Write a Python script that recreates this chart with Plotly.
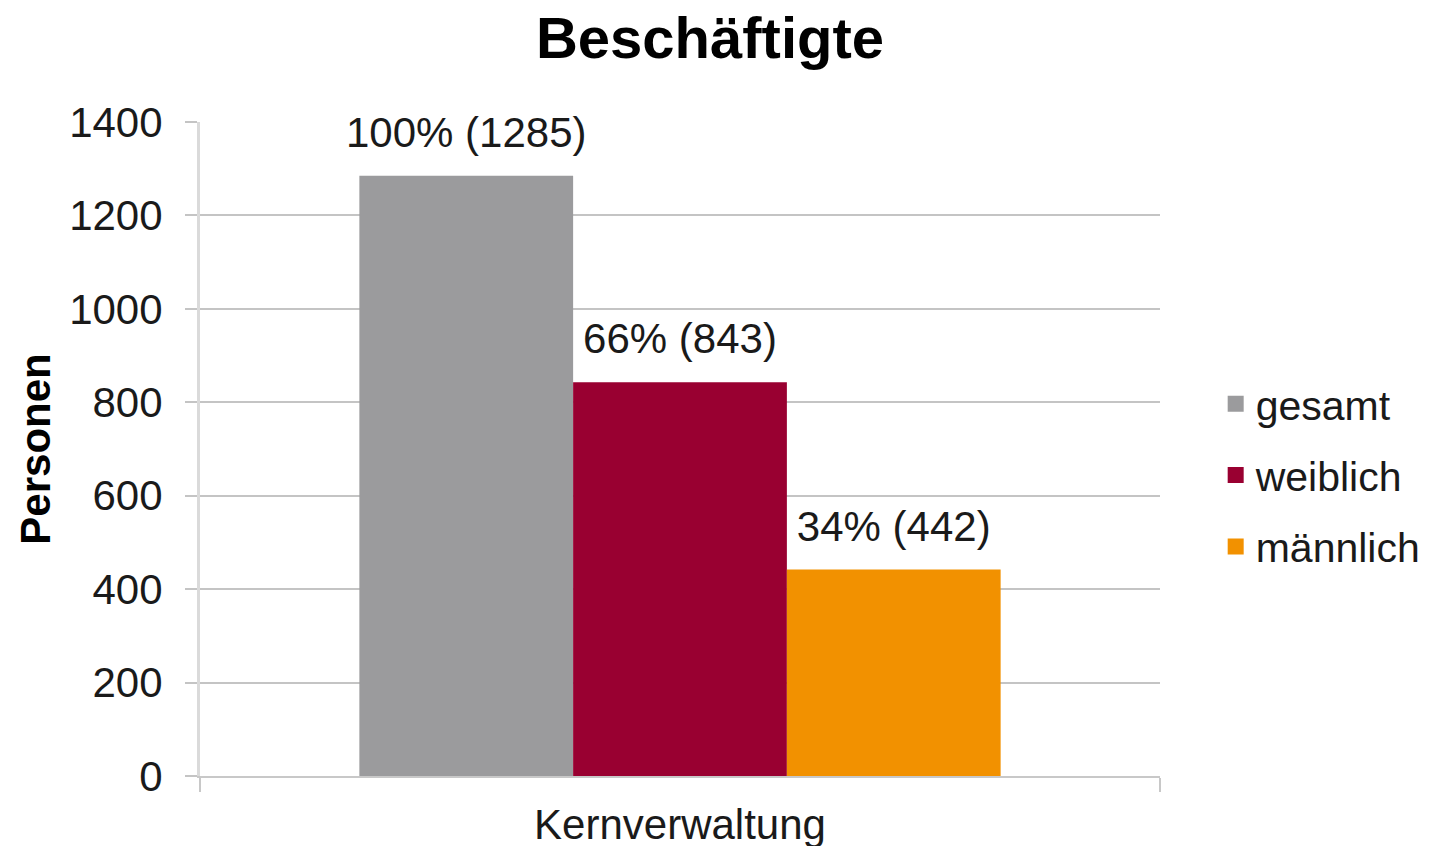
import plotly.graph_objects as go

categories = ["Kernverwaltung"]
series = ["gesamt", "weiblich", "männlich"]
values = [1285, 843, 442]
shares = [100, 66, 34]
colors = ["#9b9b9d", "#990031", "#f29100"]

FONT = "Liberation Sans, Arial, sans-serif"

fig = go.Figure()

# bars
for name, v, c in zip(series, values, colors):
    fig.add_trace(go.Bar(
        name=name, x=categories, y=[v], offsetgroup=name,
        legendgroup=name,
        marker=dict(color=c, line=dict(width=0)),
        showlegend=False, hoverinfo="skip",
    ))

# data labels as grouped text points above each bar
for name, v, p in zip(series, values, shares):
    fig.add_trace(go.Scatter(
        x=categories, y=[v], offsetgroup=name,
        mode="markers+text",
        text=[f"{p}% ({v})"],
        textposition="top center",
        textfont=dict(size=42, color="#1a1a1a", family=FONT),
        marker=dict(size=28, opacity=0),
        showlegend=False, hoverinfo="skip",
        cliponaxis=False,
    ))

# legend entries with bigger square swatches
for name, c in zip(series, colors):
    fig.add_trace(go.Scatter(
        name=name, x=categories, y=[None], offsetgroup=name,
        legendgroup=name, mode="markers",
        marker=dict(symbol="square", size=20, color=c),
        hoverinfo="skip",
    ))

fig.update_layout(
    width=1421, height=838,
    barmode="group", bargap=0.332,
    scattermode="group", scattergap=0.332,
    paper_bgcolor="white", plot_bgcolor="white",
    margin=dict(l=192, r=269, t=114, b=70, autoexpand=False),
    title=dict(
        text="<b>Beschäftigte</b>",
        x=0.494, xanchor="center", y=0.965, yanchor="middle",
        font=dict(size=58, color="#000000", family=FONT),
    ),
    legend=dict(
        x=1.058, xanchor="left", y=0.46, yanchor="middle",
        font=dict(size=41, color="#1a1a1a", family=FONT),
        traceorder="grouped", tracegroupgap=15,
        itemwidth=30,
        bgcolor="rgba(0,0,0,0)",
    ),
    xaxis=dict(
        type="category", range=[-0.5, 0.5], automargin=False,
        tickson="boundaries", ticks="outside", ticklen=14,
        tickcolor="#c8c8c8", tickwidth=2,
        showline=True, linecolor="#c8c8c8", linewidth=2,
        showgrid=False,
        ticklabelstandoff=11,
        tickfont=dict(size=42, color="#1a1a1a", family=FONT),
    ),
    yaxis=dict(
        range=[0, 1400], dtick=200, automargin=False,
        showgrid=True, gridcolor="#c4c4c4", gridwidth=2,
        ticks="outside", ticklen=12, tickcolor="#c4c4c4", tickwidth=2,
        showline=True, linecolor="#dadada", linewidth=3,
        zeroline=False,
        ticklabelstandoff=14,
        tickfont=dict(size=42, color="#1a1a1a", family=FONT),
        title=dict(
            text="<b>Personen</b>", standoff=6,
            font=dict(size=42, color="#000000", family=FONT),
        ),
    ),
)

fig.write_html("out.html")
